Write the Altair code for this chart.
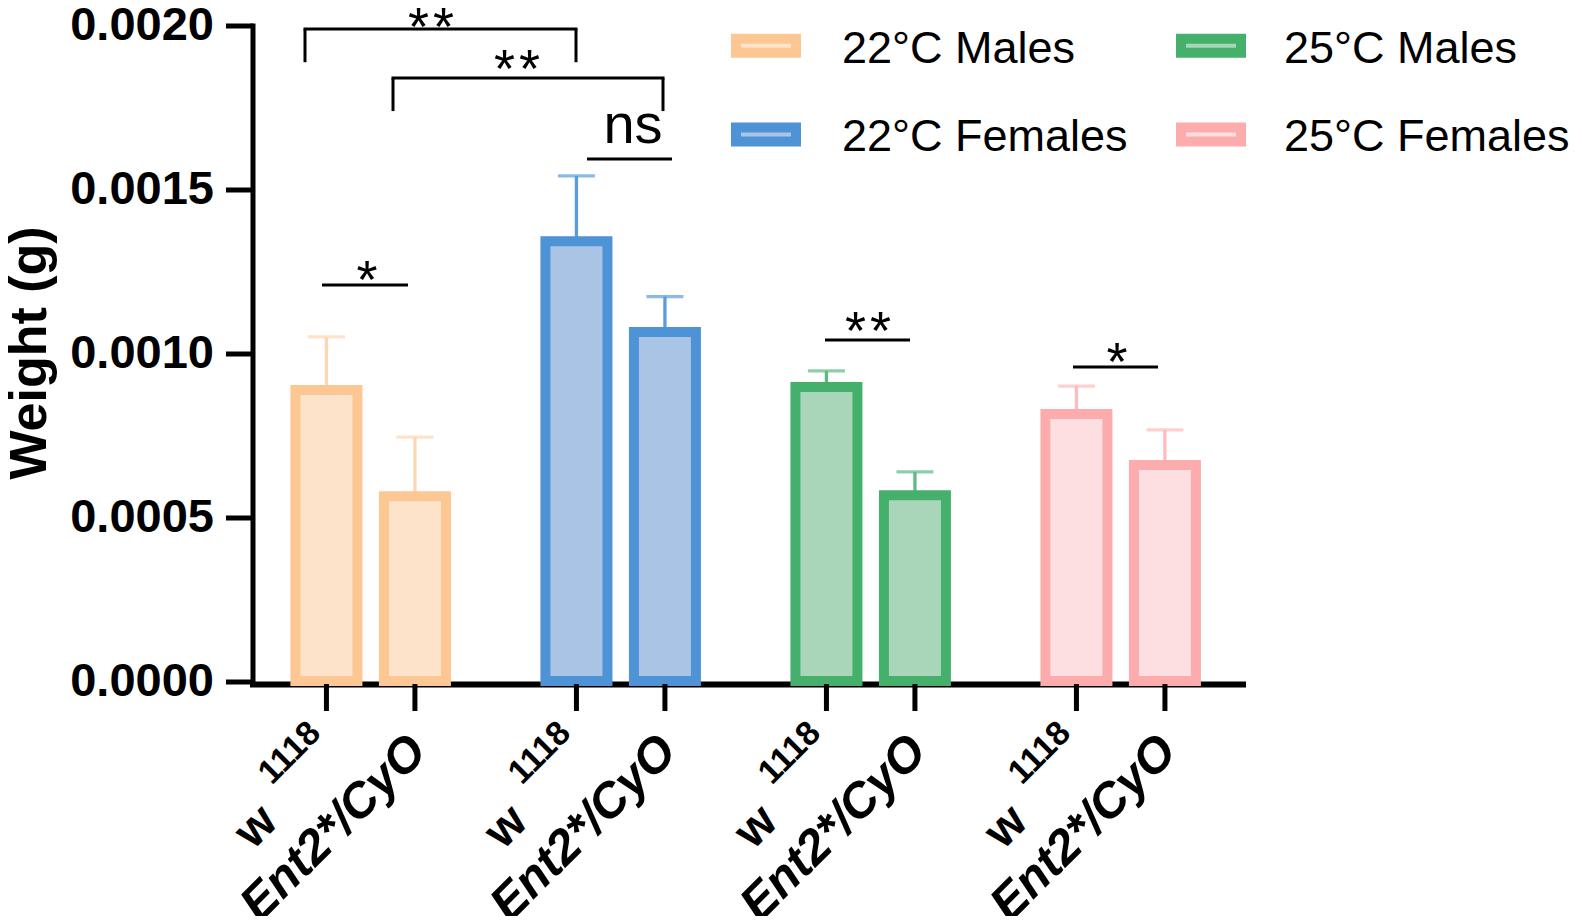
import altair as alt
import pandas as pd

# ---- data ----
group_names = ["22°C Males", "22°C Females", "25°C Males", "25°C Females"]
genotypes = ["w1118", "Ent2*/CyO"]
bar_group = ["22°C Males", "22°C Males", "22°C Females", "22°C Females",
             "25°C Males", "25°C Males", "25°C Females", "25°C Females"]
bar_genotype = ["w1118", "Ent2*/CyO"] * 4
means = [0.000888, 0.000564, 0.001342, 0.001065, 0.000897, 0.000567, 0.000815, 0.000659]
sems = [0.000162, 0.000180, 0.000199, 0.000108, 0.000049, 0.000071, 0.000085, 0.000107]
y_ticks = [0.0, 0.0005, 0.0010, 0.0015, 0.0020]

legend_order = ["22°C Males", "25°C Males", "22°C Females", "25°C Females"]
legend_col = [0, 1, 0, 1]
legend_row = [0, 0, 1, 1]
fill_colors = ["#FEE3CB", "#A9D5B8", "#AAC4E6", "#FEDFE1"]
stroke_colors = ["#FDC793", "#45B06C", "#4E93D6", "#FCACAC"]
err_colors = ["#FDD6B3", "#5EBA84", "#5B9CDC", "#FDBDBD"]

# significance annotations (x in plot pixels, y in data units)
sig_lines_x1 = [69.5, 334.5, 572.5, 820.5]
sig_lines_x2 = [155.5, 419.5, 657.5, 905.5]
sig_lines_y = [0.001208, 0.0015924, 0.0010403, 0.000958]
bracket_x1 = [52.5, 140.5]
bracket_x2 = [323.5, 410.5]
bracket_top = [0.001989, 0.0018395]
bracket_leg = [0.001888, 0.0017389]
sig_label = ["*", "ns", "**", "*", "**", "**"]
sig_label_x = [114.5, 380.5, 615.5, 864.5, 178.5, 264.5]
sig_label_y = [0.0011681, 0.0016412, 0.0010125, 0.000918, 0.0019414, 0.0018118]

FONT = "Liberation Sans"
W, H = 990, 655.5
STAR_GAP = 25  # centre-to-centre distance of the two stars in "**"

df = pd.DataFrame({
    "group": bar_group,
    "genotype": bar_genotype,
    "mean": means,
    "sem": sems,
})
df["top"] = df["mean"] + df["sem"]

lines_df = pd.DataFrame({"x1": sig_lines_x1, "x2": sig_lines_x2, "y": sig_lines_y})
br_h = pd.DataFrame({"x1": bracket_x1, "x2": bracket_x2, "y": bracket_top})
br_v = pd.DataFrame({
    "x": bracket_x1 + bracket_x2,
    "y": bracket_top + bracket_top,
    "y2": bracket_leg + bracket_leg,
})

# stars are drawn one glyph each so that "**" keeps the reference spacing
star_rows, ns_rows = [], []
for lab, x, y in zip(sig_label, sig_label_x, sig_label_y):
    if lab == "ns":
        ns_rows.append({"t": lab, "x": x, "y": y})
    else:
        n = len(lab)
        for k in range(n):
            star_rows.append({"t": "*", "x": x + (k - (n - 1) / 2) * STAR_GAP, "y": y})
star_df = pd.DataFrame(star_rows)
ns_df = pd.DataFrame(ns_rows)

# legend layout (pixels inside the plot area)
leg_df = pd.DataFrame({"group": legend_order, "col": legend_col, "row": legend_row})
leg_df["sx"] = 483.5 + leg_df["col"] * 445.0
leg_df["sx2"] = leg_df["sx"] + 60
leg_df["sy"] = 20.3 + leg_df["row"] * 88.7 - 7
leg_df["sy2"] = leg_df["sy"] + 14
leg_df["tx"] = 589.5 + leg_df["col"] * 442.0
leg_df["ty"] = 37.0 + leg_df["row"] * 88.7

fill_scale = alt.Scale(domain=legend_order, range=fill_colors)
stroke_scale = alt.Scale(domain=legend_order, range=stroke_colors)

x_enc = alt.X("group:N", sort=group_names,
              scale=alt.Scale(domain=group_names, paddingInner=0.3, paddingOuter=0.13, align=0.472),
              axis=alt.Axis(labels=False, ticks=False, title=None, domainWidth=6,
                            domainColor="black", offset=3, domainCap="square"))
xo_enc = alt.XOffset("genotype:N", sort=genotypes,
                     scale=alt.Scale(domain=genotypes, paddingInner=0.2994, paddingOuter=0.1384))
y_scale = alt.Scale(domain=[0, 0.002], nice=False, zero=True)

base = alt.Chart(df)
err_color = alt.Color("group:N", scale=alt.Scale(domain=legend_order, range=err_colors), legend=None)

err_line = base.mark_rule(strokeWidth=3.3).encode(
    x=x_enc, xOffset=xo_enc,
    y=alt.Y("mean:Q", scale=y_scale),
    y2="top:Q",
    color=err_color,
)
err_cap = base.mark_tick(thickness=3.3, size=37, orient="horizontal").encode(
    x=x_enc, xOffset=xo_enc,
    y=alt.Y("top:Q", scale=y_scale),
    color=err_color,
)
bars = base.mark_bar(strokeWidth=10).encode(
    x=x_enc, xOffset=xo_enc,
    y=alt.Y("mean:Q", scale=y_scale,
            axis=alt.Axis(values=y_ticks, format=".4f", title="Weight (g)",
                          labelFont=FONT, labelFontSize=47, labelFontWeight="bold",
                          labelColor="black", labelPadding=12,
                          tickSize=27, tickWidth=5, tickColor="black",
                          domainWidth=5, domainColor="black", domainCap="square",
                          grid=False, titleFont=FONT, titleFontSize=52,
                          titleFontWeight="bold", titleColor="black",
                          titleX=-207, titleY=327, titleAngle=270,
                          titleBaseline="alphabetic", titleAlign="center")),
    fill=alt.Fill("group:N", scale=fill_scale, legend=None),
    stroke=alt.Stroke("group:N", scale=stroke_scale, legend=None),
)

xticks = base.mark_rule(strokeWidth=5, color="black").encode(
    x=x_enc, xOffset=xo_enc,
    y=alt.value(H + 3), y2=alt.value(H + 30),
)

w_df = df[df["genotype"] == "w1118"]
e_df = df[df["genotype"] == "Ent2*/CyO"]

lab_sup = alt.Chart(w_df).mark_text(text="1118", angle=315, align="right", baseline="alphabetic",
                                    font=FONT, fontSize=34, fontWeight="bold", color="black",
                                    dx=-2.8, dy=-2.8).encode(
    x=x_enc, xOffset=xo_enc, y=alt.value(H + 54))
lab_w = alt.Chart(w_df).mark_text(text="w", angle=315, align="right", baseline="alphabetic",
                                  font=FONT, fontSize=48, fontWeight="bold", color="black",
                                  dx=-96, dy=30).encode(
    x=x_enc, xOffset=xo_enc, y=alt.value(H + 54))
lab_e = alt.Chart(e_df).mark_text(text="Ent2*/CyO", angle=315, align="right", baseline="alphabetic",
                                  font=FONT, fontSize=49, fontWeight="bold", fontStyle="italic",
                                  color="black", dx=10, dy=10).encode(
    x=x_enc, xOffset=xo_enc, y=alt.value(H + 73))

sig_l = alt.Chart(lines_df).mark_rule(strokeWidth=3, color="black").encode(
    x=alt.X("x1:Q", scale=None), x2="x2:Q",
    y=alt.Y("y:Q", scale=y_scale))
br_hl = alt.Chart(br_h).mark_rule(strokeWidth=3, color="black", strokeCap="square").encode(
    x=alt.X("x1:Q", scale=None), x2="x2:Q",
    y=alt.Y("y:Q", scale=y_scale))
br_vl = alt.Chart(br_v).mark_rule(strokeWidth=3, color="black").encode(
    x=alt.X("x:Q", scale=None),
    y=alt.Y("y:Q", scale=y_scale), y2="y2:Q")
stars = alt.Chart(star_df).mark_text(font=FONT, fontSize=54, align="center", baseline="alphabetic",
                                     color="black").encode(
    x=alt.X("x:Q", scale=None),
    y=alt.Y("y:Q", scale=y_scale),
    text="t:N")
ns_t = alt.Chart(ns_df).mark_text(font=FONT, fontSize=56, align="center", baseline="alphabetic",
                                  color="black").encode(
    x=alt.X("x:Q", scale=None),
    y=alt.Y("y:Q", scale=y_scale),
    text="t:N")

leg_sym = alt.Chart(leg_df).mark_rect(strokeWidth=10).encode(
    x=alt.X("sx:Q", scale=None), x2="sx2:Q",
    y=alt.Y("sy:Q", scale=None), y2="sy2:Q",
    fill=alt.Fill("group:N", scale=fill_scale, legend=None),
    stroke=alt.Stroke("group:N", scale=stroke_scale, legend=None),
)
leg_txt = alt.Chart(leg_df).mark_text(font=FONT, fontSize=45, align="left", baseline="alphabetic",
                                      color="black").encode(
    x=alt.X("tx:Q", scale=None),
    y=alt.Y("ty:Q", scale=None),
    text="group:N",
)

chart = alt.layer(
    err_line, err_cap, bars, xticks, lab_sup, lab_w, lab_e, sig_l, br_hl, br_vl, stars, ns_t,
    leg_sym, leg_txt
).properties(
    width=W, height=H, background="white",
    autosize=alt.AutoSizeParams(type="none"),
    padding={"left": 244.5, "top": 17.5, "right": 331, "bottom": 235},
).configure_view(stroke=None)

chart.save("out.html", embed_options={"renderer": "svg", "actions": False})
